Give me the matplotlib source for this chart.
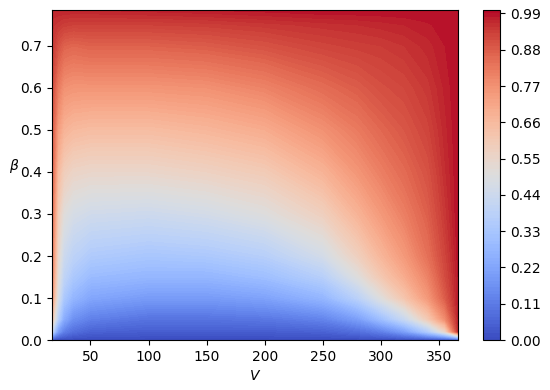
import numpy as np
import matplotlib
matplotlib.use("Agg")
import matplotlib.pyplot as plt

# Grid
V_vals = [17, 19, 22, 27, 35, 50, 100, 150, 200, 250, 280, 300, 320, 340, 355, 366]
beta_vals = [0, 0.02, 0.05, 0.1, 0.15, 0.2, 0.3, 0.4, 0.5, 0.6, 0.7, 0.75, 0.785]

# one list per V column, values at each beta (bottom to top)
col_17 = [0, 0.45, 0.65, 0.77, 0.80, 0.82, 0.84, 0.86, 0.88, 0.91, 0.94, 0.955, 0.97]
col_19 = [0, 0.32, 0.52, 0.64, 0.69, 0.72, 0.76, 0.80, 0.84, 0.88, 0.93, 0.95, 0.97]
col_22 = [0, 0.20, 0.38, 0.48, 0.52, 0.55, 0.60, 0.66, 0.74, 0.82, 0.90, 0.945, 0.97]
col_27 = [0, 0.12, 0.24, 0.34, 0.40, 0.44, 0.51, 0.59, 0.68, 0.77, 0.87, 0.935, 0.97]
col_35 = [0, 0.08, 0.16, 0.27, 0.34, 0.39, 0.47, 0.56, 0.66, 0.76, 0.86, 0.93, 0.97]
col_50 = [0, 0.05, 0.12, 0.22, 0.29, 0.35, 0.45, 0.55, 0.65, 0.76, 0.87, 0.93, 0.97]
col_100 = [0, 0.04, 0.09, 0.19, 0.27, 0.33, 0.44, 0.55, 0.65, 0.76, 0.87, 0.93, 0.975]
col_150 = [0, 0.04, 0.09, 0.19, 0.27, 0.34, 0.46, 0.57, 0.67, 0.77, 0.88, 0.935, 0.98]
col_200 = [0, 0.04, 0.10, 0.21, 0.30, 0.37, 0.50, 0.60, 0.70, 0.80, 0.90, 0.945, 0.985]
col_250 = [0, 0.05, 0.13, 0.27, 0.37, 0.46, 0.58, 0.68, 0.77, 0.85, 0.925, 0.955, 0.99]
col_280 = [0, 0.08, 0.20, 0.38, 0.50, 0.58, 0.68, 0.76, 0.82, 0.88, 0.935, 0.96, 0.99]
col_300 = [0, 0.12, 0.30, 0.50, 0.61, 0.67, 0.75, 0.81, 0.86, 0.905, 0.94, 0.965, 0.99]
col_320 = [0, 0.20, 0.42, 0.62, 0.70, 0.75, 0.81, 0.855, 0.89, 0.92, 0.95, 0.97, 0.99]
col_340 = [0, 0.35, 0.60, 0.75, 0.80, 0.84, 0.875, 0.90, 0.925, 0.945, 0.965, 0.978, 0.99]
col_355 = [0, 0.55, 0.78, 0.88, 0.91, 0.925, 0.945, 0.958, 0.966, 0.973, 0.98, 0.986, 0.99]
col_366 = [0, 0.95, 0.97, 0.98, 0.98, 0.985, 0.99, 0.99, 0.99, 0.99, 0.99, 0.99, 0.99]

columnas = [col_17, col_19, col_22, col_27, col_35, col_50, col_100, col_150,
            col_200, col_250, col_280, col_300, col_320, col_340, col_355, col_366]

Z = np.array(columnas).T  # filas = beta, columnas = V
V, B = np.meshgrid(V_vals, beta_vals)

fig = plt.figure(figsize=(5.5, 3.9), dpi=100)
ax = fig.add_axes([0.0945, 0.128, 0.738, 0.846])
cax = fig.add_axes([0.878, 0.128, 0.031, 0.846])

niveles = np.linspace(0, 1, 101)
cs = ax.contourf(V, B, Z, levels=niveles, cmap='coolwarm')
fig.colorbar(cs, cax=cax)

ax.set_xlabel('$V$')
ax.set_ylabel(r'$\beta$', rotation=0)

fig.savefig('out.png', dpi=100)
